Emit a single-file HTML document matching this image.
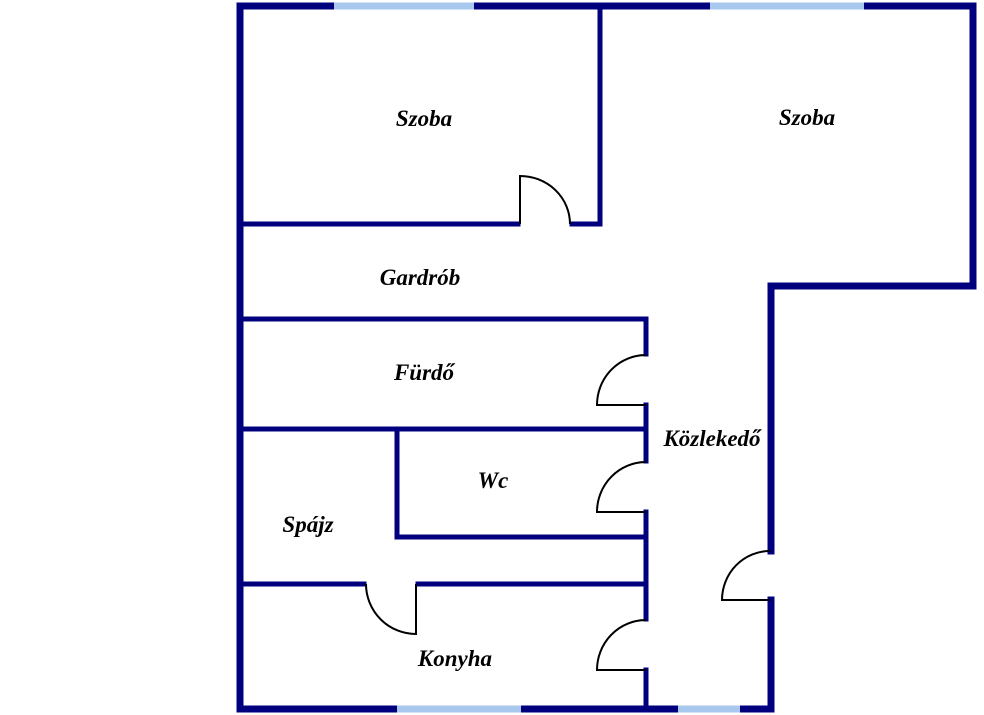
<!DOCTYPE html>
<html><head><meta charset="utf-8"><style>
html,body{margin:0;padding:0;background:#fff;width:984px;height:715px;overflow:hidden}
text{font-family:"Liberation Serif",serif;font-weight:bold;font-style:italic;font-size:23px;fill:#000;text-anchor:middle}
</style></head><body>
<svg width="984" height="715" viewBox="0 0 984 715" xmlns="http://www.w3.org/2000/svg">
<g stroke="#00007f" stroke-linecap="square" fill="none">
<g stroke-width="7">
<line x1="240" y1="6" x2="973" y2="6"/>
<line x1="240" y1="6" x2="240" y2="709"/>
<line x1="973" y1="6" x2="973" y2="286"/>
<line x1="771" y1="286" x2="973" y2="286"/>
<line x1="771" y1="286" x2="771" y2="551"/>
<line x1="771" y1="600" x2="771" y2="709"/>
<line x1="240" y1="709" x2="771" y2="709"/>
</g>
<g stroke-width="5">
<line x1="240" y1="224" x2="518" y2="224"/>
<line x1="572" y1="224" x2="600" y2="224"/>
<line x1="600" y1="6" x2="600" y2="224"/>
<line x1="240" y1="319" x2="646" y2="319"/>
<line x1="646" y1="319" x2="646" y2="354"/>
<line x1="646" y1="405" x2="646" y2="461"/>
<line x1="646" y1="512" x2="646" y2="619"/>
<line x1="646" y1="670" x2="646" y2="709"/>
<line x1="240" y1="429" x2="646" y2="429"/>
<line x1="397" y1="429" x2="397" y2="537"/>
<line x1="397" y1="537" x2="646" y2="537"/>
<line x1="240" y1="584" x2="364" y2="584"/>
<line x1="418" y1="584" x2="646" y2="584"/>
</g>
</g>
<g stroke="#a8c8ee" stroke-width="7">
<line x1="334" y1="6" x2="474" y2="6"/>
<line x1="710" y1="6" x2="864" y2="6"/>
<line x1="397" y1="709" x2="521" y2="709"/>
<line x1="678" y1="709" x2="740" y2="709"/>
</g>
<g stroke="#000" stroke-width="2" fill="none">
<path d="M570 224 A50 48 0 0 0 520 176 L520 224"/>
<path d="M646 355 A49 50 0 0 0 597 405 L646 405"/>
<path d="M646 462 A49 50 0 0 0 597 512 L646 512"/>
<path d="M646 620 A49 50 0 0 0 597 670 L646 670"/>
<path d="M770 551 A48 49 0 0 0 722 600 L770 600"/>
<path d="M366 584 A50 50 0 0 0 416 634 L416 584"/>
</g>
<text x="424" y="126">Szoba</text>
<text x="807" y="125">Szoba</text>
<text x="420" y="285">Gardrób</text>
<text x="424" y="380">Fürdő</text>
<text x="712" y="446">Közlekedő</text>
<text x="493" y="488">Wc</text>
<text x="308" y="532">Spájz</text>
<text x="455" y="666">Konyha</text>
</svg>
</body></html>
